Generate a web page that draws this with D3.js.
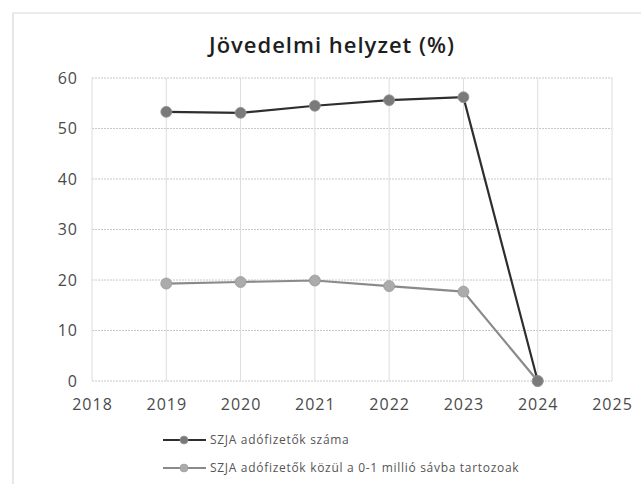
<!DOCTYPE html>
<html>
<head>
<meta charset="utf-8">
<script src="https://cdn.jsdelivr.net/npm/d3@7"></script>
<style>
  body { margin: 0; background: #fff; }
  text { font-family: "Open Sans", "Noto Sans", sans-serif; }
</style>
</head>
<body>
<div class="chart"></div>
<script>
(function(){

  var years = [2019, 2020, 2021, 2022, 2023, 2024]
  var adofizetok = [53.3, 53.1, 54.5, 55.6, 56.2, 0]
  var savba = [19.3, 19.6, 19.9, 18.8, 17.7, 0]
  var yTicks = [0, 10, 20, 30, 40, 50, 60]
  var xTicks = [2018, 2019, 2020, 2021, 2022, 2023, 2024, 2025]
  var seriesNames = ['SZJA adófizetők száma', 'SZJA adófizetők közül a 0-1 millió sávba tartozoak']

  var width = 641, height = 484

  var svg = d3.select(".chart").append("svg")
        .attr("width", width)
        .attr("height", height)

  // chart frame
  svg.append('path')
    .attr('d', 'M13,' + height + ' V13 H' + width)
    .style('fill', 'none')
    .style('stroke', '#d8d8d8')
    .style('stroke-width', 1.2)

  var x = d3.scaleLinear().domain([2018, 2025]).range([92, 612])
  var y = d3.scaleLinear().domain([0, 60]).range([381, 78])

  // horizontal gridlines
  svg.selectAll('.hgrid')
    .data(yTicks)
    .enter().append('line')
    .attr('class', 'hgrid')
    .attr('x1', x(2018)).attr('x2', x(2025))
    .attr('y1', d => y(d)).attr('y2', d => y(d))
    .style('stroke', '#c8c8c8')
    .style('stroke-dasharray', '2,1')

  // vertical gridlines
  svg.selectAll('.vgrid')
    .data(xTicks)
    .enter().append('line')
    .attr('class', 'vgrid')
    .attr('x1', d => x(d)).attr('x2', d => x(d))
    .attr('y1', y(60)).attr('y2', y(0))
    .style('stroke', '#dcdcdc')

  var yAxis = svg.append('g')
    .attr('transform', 'translate(' + x(2018) + ',0)')
    .call(d3.axisLeft(y).tickValues(yTicks).tickSize(0).tickPadding(14))
  var xAxis = svg.append('g')
    .attr('transform', 'translate(0,' + y(0) + ')')
    .call(d3.axisBottom(x).tickValues(xTicks).tickSize(0).tickPadding(18).tickFormat(d3.format('d')))

  ;[yAxis, xAxis].forEach(function(a){
    a.select('.domain').remove()
    a.selectAll('text')
      .style('font-size', '16px')
      .style('letter-spacing', '1px')
      .style('fill', '#4a4a4a')
      .style('font-family', '"Open Sans", sans-serif')
  })

  var line = d3.line()
    .x((d, i) => x(years[i]))
    .y(d => y(d))

  var series = [
    { values: savba, stroke: '#8a8a8a', fill: '#ababab' },
    { values: adofizetok, stroke: '#2e2e2e', fill: '#7a7a7a' }
  ]

  series.forEach(function(s){
    svg.append('path')
      .datum(s.values)
      .attr('d', line)
      .style('fill', 'none')
      .style('stroke', s.stroke)
      .style('stroke-width', 2.2)

    svg.selectAll(null)
      .data(s.values)
      .enter().append('circle')
      .attr('cx', (d, i) => x(years[i]))
      .attr('cy', d => y(d))
      .attr('r', 5.5)
      .style('fill', s.fill)
      .style('stroke', '#9a9a9a')
      .style('stroke-width', 0.8)
  })

  // title
  svg.append('text')
    .attr('x', 332)
    .attr('y', 53)
    .attr('text-anchor', 'middle')
    .style('font-size', '22px')
    .style('letter-spacing', '1px')
    .style('font-weight', 600)
    .style('fill', '#1e1e1e')
    .text('Jövedelmi helyzet (%)')

  // legend
  var legendY = [440, 468]
  var legendSeries = [series[1], series[0]]
  legendSeries.forEach(function(s, i){
    var g = svg.append('g').attr('transform', 'translate(0,' + legendY[i] + ')')
    g.append('line')
      .attr('x1', 163).attr('x2', 206)
      .style('stroke', s.stroke)
      .style('stroke-width', 2)
    g.append('circle')
      .attr('cx', 184).attr('r', 4)
      .style('fill', s.fill)
      .style('stroke', '#9a9a9a')
      .style('stroke-width', 0.6)
    g.append('text')
      .attr('x', 210)
      .attr('dy', '.35em')
      .style('font-size', '12px')
      .style('letter-spacing', '0.7px')
      .style('fill', '#555')
      .text(seriesNames[i])
  })

})()
</script>
</body>
</html>
